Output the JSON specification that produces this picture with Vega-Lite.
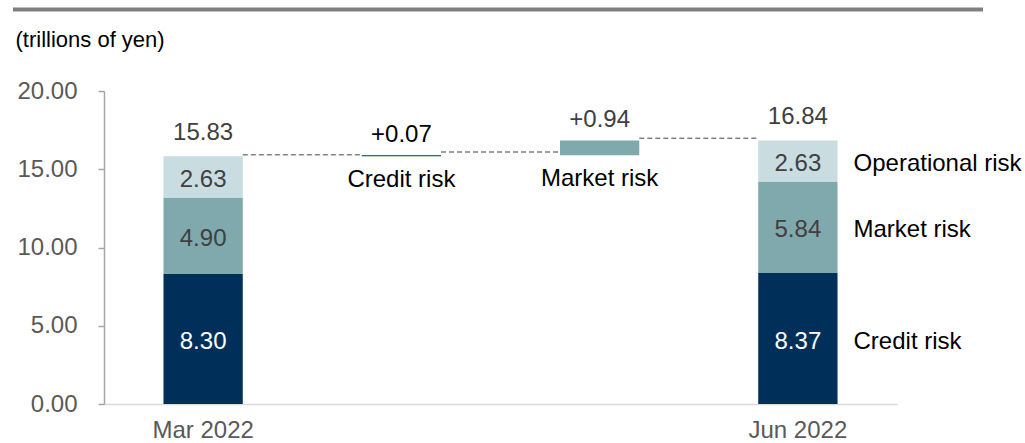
{
  "$schema": "https://vega.github.io/schema/vega-lite/v6.json",
  "autosize": "none",
  "width": 793,
  "height": 313,
  "padding": {"left": 104, "top": 91, "right": 128, "bottom": 39},
  "background": "white",
  "config": {
    "view": {"stroke": null},
    "font": "Liberation Sans",
    "text": {"font": "Liberation Sans"}
  },
  "datasets": {
    "bars": [
      {"step": "Mar 2022", "component": "Credit risk", "y0": 0, "y1": 8.30, "value": 8.30},
      {"step": "Mar 2022", "component": "Market risk", "y0": 8.30, "y1": 13.20, "value": 4.90},
      {"step": "Mar 2022", "component": "Operational risk", "y0": 13.20, "y1": 15.83, "value": 2.63},
      {"step": "Credit", "component": "Credit risk", "y0": 15.83, "y1": 15.90, "value": 0.07},
      {"step": "Market", "component": "Market risk", "y0": 15.90, "y1": 16.84, "value": 0.94},
      {"step": "Jun 2022", "component": "Credit risk", "y0": 0, "y1": 8.37, "value": 8.37},
      {"step": "Jun 2022", "component": "Market risk", "y0": 8.37, "y1": 14.21, "value": 5.84},
      {"step": "Jun 2022", "component": "Operational risk", "y0": 14.21, "y1": 16.84, "value": 2.63}
    ],
    "totals": [
      {"step": "Mar 2022", "total": 15.83},
      {"step": "Jun 2022", "total": 16.84}
    ],
    "deltas": [
      {"step": "Credit", "name": "Credit risk", "bottom": 15.83, "top": 15.90, "delta": "+0.07"},
      {"step": "Market", "name": "Market risk", "bottom": 15.90, "top": 16.84, "delta": "+0.94"}
    ],
    "connectors": [
      {"from": "Mar 2022", "to": "Credit", "level": 15.92},
      {"from": "Credit", "to": "Market", "level": 16.1},
      {"from": "Market", "to": "Jun 2022", "level": 16.98}
    ],
    "frame": [{"level": 25.2}]
  },
  "layer": [
    {
      "data": {"name": "frame"},
      "mark": {"type": "rule", "color": "#7f7f7f", "strokeWidth": 4, "clip": false},
      "encoding": {
        "y": {"field": "level", "type": "quantitative", "scale": {"domain": [0, 20], "nice": false, "zero": true}},
        "x": {"value": -91},
        "x2": {"value": 879}
      }
    },
    {
      "data": {"name": "bars"},
      "mark": {"type": "bar"},
      "encoding": {
        "x": {
          "field": "step", "type": "nominal",
          "scale": {"type": "band", "domain": ["Mar 2022", "Credit", "Market", "Jun 2022"], "paddingInner": 0.6, "paddingOuter": 0.3},
          "axis": {
            "values": ["Mar 2022", "Jun 2022"],
            "title": null,
            "labelAngle": 0,
            "labelFontSize": 24,
            "labelColor": "#595959",
            "labelPadding": 14,
            "ticks": false,
            "domainColor": "#d9d9d9",
            "domainWidth": 1.5
          }
        },
        "y": {
          "field": "y0", "type": "quantitative",
          "scale": {"domain": [0, 20], "nice": false},
          "axis": {
            "values": [0, 5, 10, 15, 20],
            "format": ".2f",
            "title": "(trillions of yen)",
            "titleAngle": 0,
            "titleAlign": "left",
            "titleBaseline": "alphabetic",
            "titleX": -89,
            "titleY": -45,
            "titleFontSize": 22,
            "titleFontWeight": "normal",
            "titleColor": "#000000",
            "labelFontSize": 24,
            "labelColor": "#595959",
            "labelPadding": 21,
            "tickSize": 6,
            "tickColor": "#a6a6a6",
            "domainColor": "#a6a6a6",
            "domainWidth": 1.5,
            "tickWidth": 1.5,
            "grid": false
          }
        },
        "y2": {"field": "y1"},
        "color": {
          "field": "component", "type": "nominal",
          "scale": {"domain": ["Credit risk", "Market risk", "Operational risk"], "range": ["#00305A", "#7FA9AD", "#C9DDE0"]},
          "legend": null
        }
      }
    },
    {
      "data": {"name": "connectors"},
      "mark": {"type": "rule", "color": "#808080", "strokeWidth": 1.5, "strokeDash": [5, 3]},
      "encoding": {
        "x": {"field": "from", "type": "nominal", "bandPosition": 1, "scale": {"type": "band", "domain": ["Mar 2022", "Credit", "Market", "Jun 2022"], "paddingInner": 0.6, "paddingOuter": 0.3}},
        "x2": {"field": "to", "bandPosition": 0},
        "y": {"field": "level", "type": "quantitative"}
      }
    },
    {
      "data": {"name": "bars"},
      "transform": [
        {"filter": "datum.step == 'Mar 2022' || datum.step == 'Jun 2022'"},
        {"calculate": "(datum.y0 + datum.y1) / 2", "as": "mid"}
      ],
      "mark": {"type": "text", "fontSize": 24, "baseline": "middle", "align": "center", "dy": 3},
      "encoding": {
        "x": {"field": "step", "type": "nominal", "bandPosition": 0.5},
        "y": {"field": "mid", "type": "quantitative"},
        "text": {"field": "value", "type": "quantitative", "format": ".2f"},
        "color": {
          "condition": {"test": "datum.component == 'Credit risk'", "value": "#ffffff"},
          "value": "#404040"
        }
      }
    },
    {
      "data": {"name": "bars"},
      "transform": [
        {"filter": "datum.step == 'Jun 2022'"},
        {"calculate": "(datum.y0 + datum.y1) / 2", "as": "mid"}
      ],
      "mark": {"type": "text", "fontSize": 24, "baseline": "middle", "align": "left", "dx": 16, "dy": 3, "color": "#000000"},
      "encoding": {
        "x": {"field": "step", "type": "nominal", "bandPosition": 1},
        "y": {"field": "mid", "type": "quantitative"},
        "text": {"field": "component"}
      }
    },
    {
      "data": {"name": "totals"},
      "mark": {"type": "text", "fontSize": 24, "baseline": "alphabetic", "align": "center", "dy": -16, "color": "#404040"},
      "encoding": {
        "x": {"field": "step", "type": "nominal", "bandPosition": 0.5},
        "y": {"field": "total", "type": "quantitative"},
        "text": {"field": "total", "type": "quantitative", "format": ".2f"}
      }
    },
    {
      "data": {"name": "deltas"},
      "mark": {"type": "text", "fontSize": 24, "baseline": "alphabetic", "align": "center", "dy": -13},
      "encoding": {
        "x": {"field": "step", "type": "nominal", "bandPosition": 0.5},
        "y": {"field": "top", "type": "quantitative"},
        "text": {"field": "delta"},
        "color": {
          "condition": {"test": "datum.step == 'Credit'", "value": "#000000"},
          "value": "#404040"
        }
      }
    },
    {
      "data": {"name": "deltas"},
      "mark": {"type": "text", "fontSize": 24, "baseline": "alphabetic", "align": "center", "dy": 31, "color": "#000000"},
      "encoding": {
        "x": {"field": "step", "type": "nominal", "bandPosition": 0.5},
        "y": {"field": "bottom", "type": "quantitative"},
        "text": {"field": "name"}
      }
    }
  ]
}
